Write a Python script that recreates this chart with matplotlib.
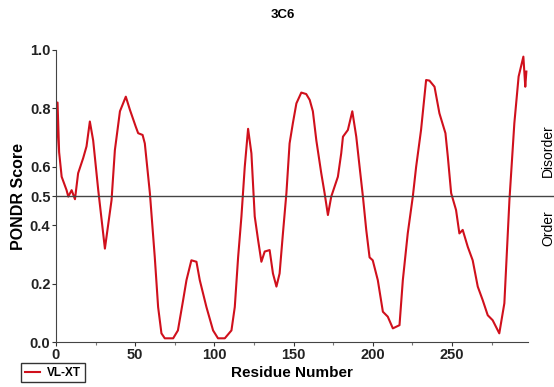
import matplotlib.pyplot as plt
from matplotlib.ticker import MultipleLocator

# PONDR VL-XT curve
residues = [0, 1, 2, 3.6, 6.7, 7.8, 9.9, 12, 14, 17.2, 19.3, 21.4, 23.5, 26.7, 30.9,
            35.1, 37.2, 40.4, 44.1, 46.7, 50.4, 51.9, 54.7, 56.1, 59.3, 62.4, 64.5,
            66.6, 68.7, 74, 77, 80.3, 82.4, 85.5, 88.7, 90.8, 95, 99.2, 102.3, 106.6,
            110.8, 112.9, 115, 117.1, 119.2, 121.3, 123.4, 125.5, 127.6, 129.7, 131.8,
            134.9, 137, 139.2, 141.2, 143.3, 145.5, 147.5, 149.6, 151.8, 154.9, 158,
            160.2, 162.2, 164.4, 167.5, 169.6, 171.7, 173.8, 178, 180.1, 181.2, 184.3,
            187.1, 189.6, 191.7, 193.8, 195.9, 198, 200, 203.2, 206.4, 209.5, 212.7,
            216.9, 219, 222.1, 225.3, 227.4, 230.5, 233.7, 235.8, 239, 242.1, 245.9,
            247.4, 249.5, 252.6, 254.7, 256.8, 260, 263.1, 266.3, 269.4, 272.6, 275.7,
            279.9, 283.1, 286.3, 289.4, 292.1, 295.1, 296.3, 297]
scores = [0.63, 0.82, 0.65, 0.566, 0.52, 0.498, 0.52, 0.489, 0.578, 0.63, 0.67, 0.755,
          0.69, 0.52, 0.32, 0.486, 0.657, 0.79, 0.84, 0.795, 0.737, 0.715, 0.709, 0.68,
          0.51, 0.29, 0.12, 0.03, 0.013, 0.013, 0.04, 0.144, 0.212, 0.28, 0.275, 0.212,
          0.12, 0.04, 0.013, 0.013, 0.04, 0.12, 0.29, 0.43, 0.60, 0.73, 0.646, 0.43,
          0.35, 0.275, 0.31, 0.315, 0.235, 0.19, 0.235, 0.372, 0.51, 0.68, 0.75, 0.817,
          0.854, 0.849, 0.829, 0.79, 0.69, 0.578, 0.51, 0.435, 0.498, 0.566, 0.646,
          0.703, 0.726, 0.79, 0.703, 0.60, 0.498, 0.384, 0.29, 0.28, 0.212, 0.104,
          0.087, 0.047, 0.058, 0.212, 0.372, 0.498, 0.60, 0.726, 0.897, 0.895, 0.874,
          0.783, 0.715, 0.635, 0.51, 0.452, 0.372, 0.384, 0.326, 0.28, 0.19, 0.144,
          0.092, 0.075, 0.03, 0.133, 0.486, 0.749, 0.909, 0.977, 0.874, 0.926]

y_ticks = [0.0, 0.2, 0.4, 0.5, 0.6, 0.8, 1.0]
x_ticks = [0, 50, 100, 150, 200, 250]

plt.rcParams['font.family'] = ['Liberation Sans', 'DejaVu Sans']

fig = plt.figure(figsize=(5.54, 3.87), dpi=100)
ax = fig.add_axes([0.101, 0.116, 0.852, 0.755])

ax.plot(residues, scores, color='#d0101c', lw=1.5, label='VL-XT')
ax.axhline(0.5, xmin=0, xmax=1.055, color='#444444', lw=1.0, clip_on=False)

ax.set_xlim(0, 298)
ax.set_ylim(0, 1.0)
ax.set_xticks(x_ticks)
ax.xaxis.set_minor_locator(MultipleLocator(25))
ax.set_yticks(y_ticks)
ax.set_yticklabels(['%.1f' % t for t in y_ticks])

for side in ['top', 'right']:
    ax.spines[side].set_visible(False)
for side in ['left', 'bottom']:
    ax.spines[side].set_color('#444444')

ax.tick_params(axis='both', which='major', direction='out', length=3, width=0.8,
               labelsize=10.5, pad=1, colors='#333333')
ax.tick_params(axis='x', which='minor', direction='out', length=2, width=0.8, colors='#777777')
for lbl in ax.get_xticklabels() + ax.get_yticklabels():
    lbl.set_fontweight('bold')
    lbl.set_color('#222222')

fig.text(0.511, 0.961, '3C6', ha='center', va='center', fontsize=9.5, fontweight='bold')
ax.set_xlabel('Residue Number', fontsize=11, fontweight='bold', labelpad=3)
ax.set_ylabel('PONDR Score', fontsize=11.5, fontweight='bold', labelpad=3)

fig.text(0.989, 0.612, 'Disorder', rotation=90, ha='center', va='center', fontsize=10)
fig.text(0.989, 0.41, 'Order', rotation=90, ha='center', va='center', fontsize=10)

fig.legend(loc='lower left', bbox_to_anchor=(0.038, 0.012), fancybox=False,
           edgecolor='#333333', prop={'weight': 'bold', 'size': 8.5},
           handlelength=1.3, borderpad=0.3, handletextpad=0.6, borderaxespad=0,
           framealpha=1)

fig.savefig('out.png', dpi=100)
